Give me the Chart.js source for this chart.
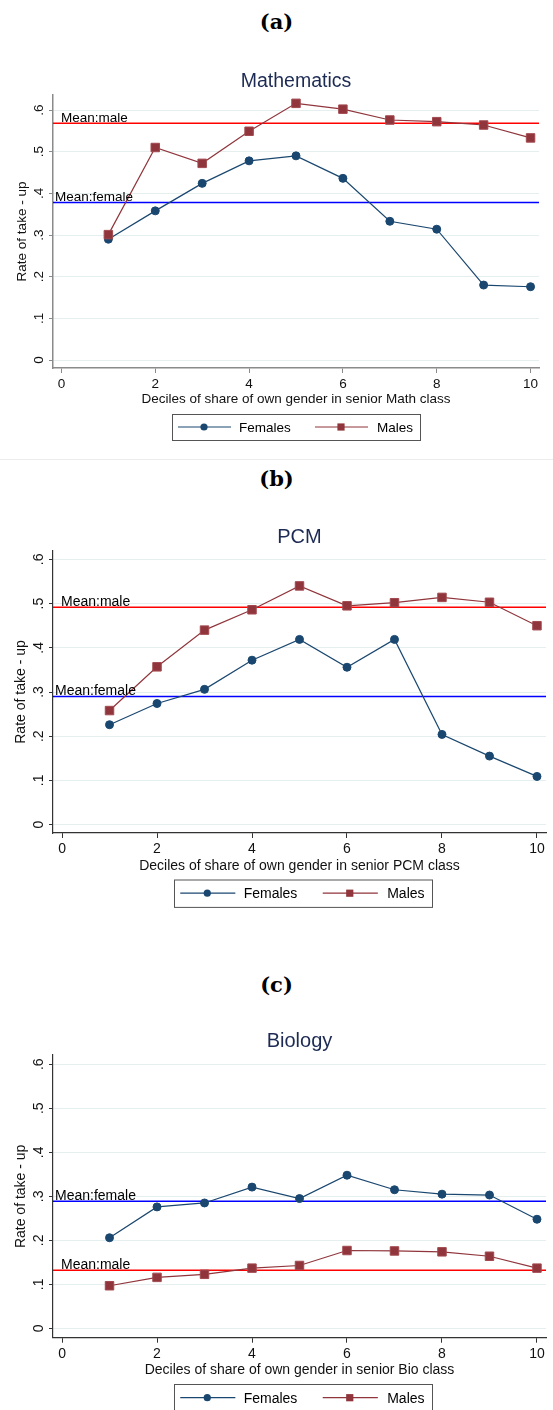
<!DOCTYPE html>
<html>
<head>
<meta charset="utf-8">
<script src="https://cdn.jsdelivr.net/npm/chart.js@4.4.1/dist/chart.umd.min.js"></script>
<style>
  body { margin: 0; width: 553px; height: 1410px; overflow: hidden; background: #fff; position: relative; }
  canvas { position: absolute; left: 0; }
  .panel-label { position: absolute; left: 0; width: 553px; text-align: center; font-family: "DejaVu Serif", serif; font-weight: bold; font-size: 21px; line-height: 24px; color: #000; }
  .sep { position: absolute; left: 0; top: 459px; width: 553px; height: 1px; background: #ececec; }
</style>
</head>
<body>
<div class="panel-label" style="top:10px">(a)</div>
<canvas id="math-chart" width="553" height="390" style="top:60px"></canvas>
<div class="sep"></div>
<div class="panel-label" style="top:467px">(b)</div>
<canvas id="pcm-chart" width="553" height="400" style="top:510px"></canvas>
<div class="panel-label" style="top:973px">(c)</div>
<canvas id="bio-chart" width="553" height="396" style="top:1014px"></canvas>
<script>
// deciles on the x axis, same for all three panels
const deciles = [1, 2, 3, 4, 5, 6, 7, 8, 9, 10]
const xTickValues = [0, 2, 4, 6, 8, 10]
const yTickValues = [0, 0.1, 0.2, 0.3, 0.4, 0.5, 0.6]
const yTickLabels = ['0', '.1', '.2', '.3', '.4', '.5', '.6']

// (a) Mathematics
const mathFemales = [0.290, 0.358, 0.424, 0.478, 0.490, 0.436, 0.333, 0.314, 0.180, 0.176]
const mathMales = [0.301, 0.510, 0.472, 0.549, 0.616, 0.602, 0.576, 0.572, 0.564, 0.533]
const mathMeanMale = 0.568
const mathMeanFemale = 0.378

// (b) PCM
const pcmFemales = [0.226, 0.274, 0.306, 0.372, 0.419, 0.356, 0.419, 0.204, 0.155, 0.109]
const pcmMales = [0.258, 0.357, 0.440, 0.486, 0.540, 0.495, 0.502, 0.514, 0.503, 0.450]
const pcmMeanMale = 0.492
const pcmMeanFemale = 0.290

// (c) Biology
const bioFemales = [0.206, 0.276, 0.285, 0.321, 0.295, 0.348, 0.315, 0.305, 0.303, 0.248]
const bioMales = [0.097, 0.116, 0.123, 0.137, 0.143, 0.177, 0.176, 0.174, 0.164, 0.137]
const bioMeanMale = 0.132
const bioMeanFemale = 0.289

const femaleColor = '#1a476f'
const maleColor = '#90353b'
const fontFamily = '"Liberation Sans", Arial, Helvetica, sans-serif'

// draws the things Stata puts around the plot: title, rotated y labels, mean labels, legend box
const panelExtras = {
    id: 'panelExtras',
    afterDraw(chart, args, o) {
        const {ctx, chartArea} = chart
        const y = chart.scales.y
        ctx.save()

        // title centred over the plot region
        ctx.font = o.titleSize + 'px ' + fontFamily
        ctx.fillStyle = '#1d2b54'
        ctx.textAlign = 'center'
        ctx.textBaseline = 'middle'
        ctx.fillText(o.title, (chartArea.left + chartArea.right) / 2, o.titleY)

        // y tick labels, rotated like Stata does
        ctx.font = o.fontSize + 'px ' + fontFamily
        ctx.fillStyle = '#111'
        yTickValues.forEach(function(v, i) {
            ctx.save()
            ctx.translate(o.yLabelX, y.getPixelForValue(v))
            ctx.rotate(-Math.PI / 2)
            ctx.fillText(yTickLabels[i], 0, 0)
            ctx.restore()
        })

        // mean line labels
        ctx.textAlign = 'left'
        ctx.textBaseline = 'alphabetic'
        ctx.fillStyle = '#000'
        ctx.fillText('Mean:male', chartArea.left + 8, y.getPixelForValue(o.meanMale) - 1.5)
        ctx.fillText('Mean:female', chartArea.left + 2, y.getPixelForValue(o.meanFemale) - 1.5)

        // legend
        const k = o.legendScale
        const bx = o.legendX, by = o.legendY
        const cy = by + o.legendH / 2
        ctx.strokeStyle = '#555'
        ctx.lineWidth = 1
        ctx.strokeRect(bx + 0.5, by + 0.5, o.legendW, o.legendH)

        ctx.lineWidth = 1.2
        ctx.strokeStyle = femaleColor
        ctx.beginPath()
        ctx.moveTo(bx + 6 * k, cy)
        ctx.lineTo(bx + 59 * k, cy)
        ctx.stroke()
        ctx.fillStyle = femaleColor
        ctx.beginPath()
        ctx.arc(bx + 32 * k, cy, 3.6, 0, Math.PI * 2)
        ctx.fill()

        ctx.strokeStyle = maleColor
        ctx.beginPath()
        ctx.moveTo(bx + 143 * k, cy)
        ctx.lineTo(bx + 196 * k, cy)
        ctx.stroke()
        ctx.fillStyle = maleColor
        ctx.fillRect(bx + 169 * k - 3.6, cy - 3.6, 7.2, 7.2)

        ctx.fillStyle = '#000'
        ctx.textBaseline = 'middle'
        ctx.fillText('Females', bx + 67 * k, cy + 1)
        ctx.fillText('Males', bx + 205 * k, cy + 1)

        ctx.restore()
    }
}

function makeChart(canvasId, title, xTitle, females, males, meanMale, meanFemale, L) {
    let ctx = document.querySelector(canvasId).getContext('2d')
    let H = ctx.canvas.height
    let lh = L.fontSize * 1.2
    let tickFont = {family: fontFamily, size: L.fontSize}

    return new Chart(ctx, {
        type: 'line',
        data: {
            datasets: [
                {
                    label: 'Mean:male',
                    data: [{x: L.xMin, y: meanMale}, {x: L.xMax, y: meanMale}],
                    borderColor: '#ff0000',
                    borderWidth: 1.5,
                    pointRadius: 0,
                    order: 3
                },
                {
                    label: 'Mean:female',
                    data: [{x: L.xMin, y: meanFemale}, {x: L.xMax, y: meanFemale}],
                    borderColor: '#0000ff',
                    borderWidth: 1.5,
                    pointRadius: 0,
                    order: 3
                },
                {
                    label: 'Females',
                    data: deciles.map((d, i) => ({x: d, y: females[i]})),
                    borderColor: femaleColor,
                    backgroundColor: femaleColor,
                    borderWidth: 1.2,
                    pointStyle: 'circle',
                    pointRadius: 4,
                    pointBorderWidth: 1,
                    order: 2
                },
                {
                    label: 'Males',
                    data: deciles.map((d, i) => ({x: d, y: males[i]})),
                    borderColor: maleColor,
                    backgroundColor: maleColor,
                    pointBorderColor: '#a24a50',
                    borderWidth: 1.2,
                    pointStyle: 'rect',
                    pointRadius: 6,
                    pointBorderWidth: 1,
                    order: 1
                }
            ]
        },
        options: {
            responsive: false,
            animation: false,
            events: [],
            layout: {padding: {top: L.top, right: L.right, left: 0, bottom: 0}},
            plugins: {
                legend: {display: false},
                title: {display: false},
                tooltip: {enabled: false},
                panelExtras: {
                    title: title,
                    titleY: L.titleY,
                    titleSize: L.titleSize,
                    fontSize: L.fontSize,
                    yLabelX: 39,
                    meanMale: meanMale,
                    meanFemale: meanFemale,
                    legendX: L.legend[0],
                    legendY: L.legend[1],
                    legendW: L.legend[2],
                    legendH: L.legend[3],
                    legendScale: L.legendScale
                }
            },
            scales: {
                x: {
                    type: 'linear',
                    min: L.xMin,
                    max: L.xMax,
                    afterBuildTicks: s => { s.ticks = xTickValues.map(v => ({value: v})) },
                    afterFit: s => { s.height = H - L.bottom },
                    grid: {drawOnChartArea: false, tickLength: 5, tickColor: L.axisColor, tickWidth: 1},
                    border: {color: L.axisColor, width: L.axisWidth},
                    ticks: {padding: 3, color: '#111', font: tickFont, callback: v => String(v)},
                    title: {
                        display: true,
                        text: xTitle,
                        color: '#111',
                        font: tickFont,
                        padding: {top: 0, bottom: H - L.xTitleY - lh / 2}
                    }
                },
                y: {
                    type: 'linear',
                    min: L.yMin,
                    max: L.yMax,
                    afterBuildTicks: s => { s.ticks = yTickValues.map(v => ({value: v})) },
                    afterFit: s => { s.width = 53 },
                    grid: {color: '#e6eff0', lineWidth: 1, tickLength: 4, tickColor: L.axisColor, tickWidth: 1},
                    border: {color: L.axisColor, width: L.axisWidth},
                    ticks: {display: false},
                    title: {
                        display: true,
                        text: 'Rate of take - up',
                        color: '#111',
                        font: tickFont,
                        padding: {top: L.yTitleX - lh / 2, bottom: 0}
                    }
                }
            }
        },
        plugins: [panelExtras]
    })
}

makeChart('#math-chart', 'Mathematics', 'Deciles of share of own gender in senior Math class',
    mathFemales, mathMales, mathMeanMale, mathMeanFemale, {
        top: 35, bottom: 308, right: 14,
        xMin: -0.18, xMax: 10.18, yMin: -0.019, yMax: 0.636,
        fontSize: 13.5, titleSize: 19.5, titleY: 22, xTitleY: 339, yTitleX: 22,
        axisColor: '#8a8a8a', axisWidth: 1.5,
        legend: [172, 354, 248, 26], legendScale: 1
    })

makeChart('#pcm-chart', 'PCM', 'Deciles of share of own gender in senior PCM class',
    pcmFemales, pcmMales, pcmMeanMale, pcmMeanFemale, {
        top: 41, bottom: 323, right: 0,
        xMin: -0.19, xMax: 10.19, yMin: -0.019, yMax: 0.619,
        fontSize: 14, titleSize: 20, titleY: 27, xTitleY: 356, yTitleX: 20.7,
        axisColor: '#333', axisWidth: 1.2,
        legend: [174, 369.5, 258, 27.4], legendScale: 1.04
    })

makeChart('#bio-chart', 'Biology', 'Deciles of share of own gender in senior Bio class',
    bioFemales, bioMales, bioMeanMale, bioMeanFemale, {
        top: 41, bottom: 323.7, right: 0,
        xMin: -0.19, xMax: 10.19, yMin: -0.021, yMax: 0.621,
        fontSize: 14, titleSize: 20, titleY: 27, xTitleY: 356, yTitleX: 20.7,
        axisColor: '#333', axisWidth: 1.2,
        legend: [174, 370, 258, 27.4], legendScale: 1.04
    })
</script>
</body>
</html>
